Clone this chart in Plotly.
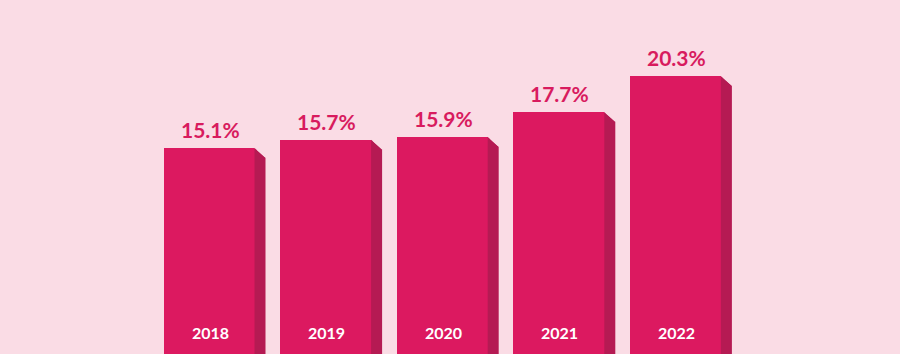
import plotly.graph_objects as go

years = [2018, 2019, 2020, 2021, 2022]
values = [15.1, 15.7, 15.9, 17.7, 20.3]
value_labels = ["15.1%", "15.7%", "15.9%", "17.7%", "20.3%"]
year_labels = ["2018", "2019", "2020", "2021", "2022"]

BG = "#fadce5"
FRONT = "#dc1960"
SIDE = "#b51a53"
TEXT = "#d81b5e"

W, H = 900, 354
px_per_year = 116.6
x0 = years[0] - 210 / px_per_year
x1 = x0 + W / px_per_year
px_per_unit = 13.85
y0 = (357 - 354) / px_per_unit
y1 = 357 / px_per_unit

bar_w = 93 / px_per_year
side_w = 9 / px_per_year
chamfer = 10 / px_per_unit
year_label_y = (357 - 332.5) / px_per_unit

fig = go.Figure()
for yr, v in zip(years, values):
    xr = yr + bar_w / 2
    fig.add_trace(go.Scatter(
        x=[xr - 2 / px_per_year, xr + side_w, xr + side_w, xr - 2 / px_per_year],
        y=[v, v - chamfer, 0, 0],
        fill="toself", fillcolor=SIDE, mode="none", hoverinfo="skip",
        showlegend=False))
fig.add_trace(go.Bar(x=years, y=values, width=bar_w, marker_color=FRONT,
                     marker_line_width=0, hoverinfo="skip", showlegend=False))
for yr, v in zip(years, values):
    xr = yr + bar_w / 2
    fig.add_trace(go.Scatter(
        x=[xr - 3 / px_per_year, xr + side_w, xr + side_w],
        y=[v + 0.05, v - chamfer, v + 0.05],
        fill="toself", fillcolor=BG, mode="none", hoverinfo="skip",
        showlegend=False))

for yr, v, lab in zip(years, values, value_labels):
    fig.add_annotation(x=yr, y=v, text="<b>" + lab + "</b>", showarrow=False,
                       yanchor="bottom", yshift=4,
                       font=dict(family="Lato", size=21, color=TEXT))
for yr, lab in zip(years, year_labels):
    fig.add_annotation(x=yr, y=year_label_y, text="<b>" + lab + "</b>",
                       showarrow=False, yanchor="middle",
                       font=dict(family="Lato", size=16, color="white"))

fig.update_layout(
    width=W, height=H, margin=dict(l=0, r=0, t=0, b=0),
    paper_bgcolor=BG, plot_bgcolor=BG,
    xaxis=dict(range=[x0, x1], visible=False, fixedrange=True),
    yaxis=dict(range=[y0, y1], visible=False, fixedrange=True),
    bargap=0,
)
fig.write_html("out.html", config={"displayModeBar": False})
